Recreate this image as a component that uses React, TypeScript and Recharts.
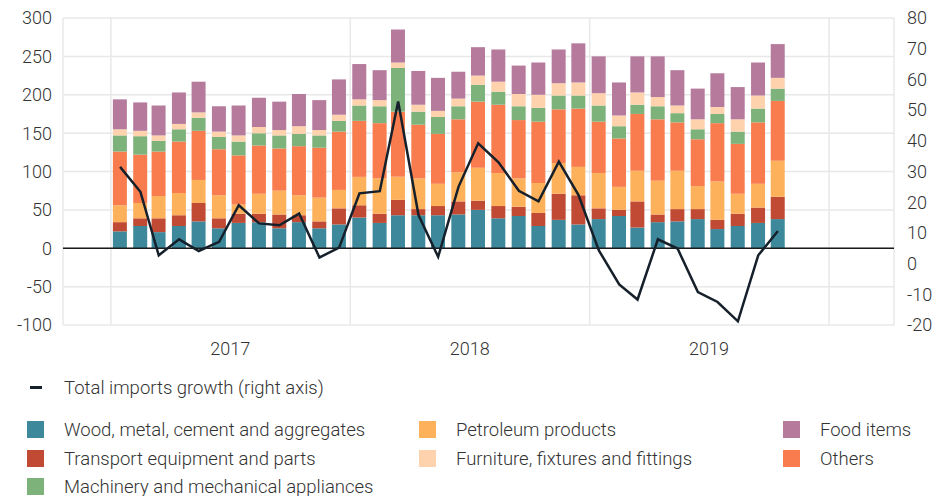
import React from 'react';
import { ComposedChart, Bar, Line, XAxis, YAxis, CartesianGrid, ReferenceLine } from 'recharts';

// months shown, one bar per month
const months = [
  '2017-01', '2017-02', '2017-03', '2017-04', '2017-05', '2017-06', '2017-07', '2017-08', '2017-09', '2017-10', '2017-11', '2017-12',
  '2018-01', '2018-02', '2018-03', '2018-04', '2018-05', '2018-06', '2018-07', '2018-08', '2018-09', '2018-10', '2018-11', '2018-12',
  '2019-01', '2019-02', '2019-03', '2019-04', '2019-05', '2019-06', '2019-07', '2019-08', '2019-09', '2019-10',
];

const wood = [22, 29, 21, 29, 35, 26, 33, 34, 26, 34, 26, 31, 40, 33, 43, 43, 43, 44, 50, 39, 42, 29, 37, 31, 38, 42, 27, 34, 35, 38, 25, 29, 33, 38];
const transport = [12, 10, 18, 14, 24, 13, 12, 11, 18, 9, 9, 21, 16, 12, 20, 8, 12, 17, 12, 16, 12, 17, 34, 38, 14, 8, 34, 10, 16, 13, 12, 16, 20, 29];
const petroleum = [22, 20, 29, 29, 30, 30, 12, 26, 31, 26, 31, 24, 37, 46, 30, 40, 29, 38, 43, 43, 37, 39, 40, 37, 46, 30, 40, 44, 50, 30, 50, 26, 31, 47];
const others = [70, 63, 58, 67, 64, 60, 64, 63, 55, 64, 65, 76, 73, 72, 85, 70, 65, 69, 86, 89, 76, 80, 70, 76, 67, 63, 74, 80, 63, 61, 76, 65, 80, 78];
const machinery = [21, 24, 14, 16, 17, 16, 18, 16, 17, 16, 16, 14, 20, 22, 57, 17, 22, 17, 22, 17, 18, 18, 18, 17, 21, 16, 12, 17, 12, 13, 12, 16, 18, 16];
const furniture = [8, 7, 7, 7, 7, 7, 8, 8, 7, 10, 7, 8, 8, 8, 7, 9, 8, 10, 12, 13, 16, 17, 16, 17, 16, 14, 16, 12, 10, 13, 9, 16, 17, 14];
const food = [39, 37, 39, 41, 40, 33, 39, 38, 37, 42, 39, 46, 46, 39, 43, 44, 43, 35, 37, 42, 37, 42, 44, 51, 48, 43, 47, 53, 46, 40, 44, 42, 43, 44];
const growth = [31.5, 23.4, 2.7, 7.9, 4.1, 7.1, 19, 13.1, 12.5, 16.3, 2, 5.2, 22.9, 23.6, 52.8, 15.8, 2.2, 25, 39.2, 33, 23.7, 20.3, 33.2, 22.3, 4.3, -6.8, -11.7, 7.9, 4.9, -9.3, -12.5, -18.8, 2.7, 10.6];

const years = [2017, 2018, 2019];
const gridYears = [2017, 2018, 2019, 2020];
const leftTicks = [-100, -50, 0, 50, 100, 150, 200, 250, 300];
const rightTicks = [-20, -10, 0, 10, 20, 30, 40, 50, 60, 70, 80];

const series = [
  { key: 'wood', name: 'Wood, metal, cement and aggregates', color: '#3d899b' },
  { key: 'transport', name: 'Transport equipment and parts', color: '#c04a33' },
  { key: 'petroleum', name: 'Petroleum products', color: '#fdb15b' },
  { key: 'others', name: 'Others', color: '#f97c4e' },
  { key: 'machinery', name: 'Machinery and mechanical appliances', color: '#7db27a' },
  { key: 'furniture', name: 'Furniture, fixtures and fittings', color: '#fed2ad' },
  { key: 'food', name: 'Food items', color: '#b57a9c' },
];

const legendCols = [
  ['wood', 'transport', 'machinery'],
  ['petroleum', 'furniture'],
  ['food', 'others'],
];

const toTime = (m: string) => {
  const [y, mo] = m.split('-').map(Number);
  return Date.UTC(y, mo - 1, 15);
};

const data = months.map((m, i) => ({
  t: toTime(m),
  wood: wood[i],
  transport: transport[i],
  petroleum: petroleum[i],
  others: others[i],
  machinery: machinery[i],
  furniture: furniture[i],
  food: food[i],
  growth: growth[i],
}));

const domain = [Date.UTC(2016, 9, 20), Date.UTC(2020, 3, 9)];
const yearTicks = years.map((y) => Date.UTC(y, 6, 2));
const boundaryTicks = gridYears.map((y) => Date.UTC(y, 0, 1));

const font = 'Roboto, "Noto Sans", sans-serif';
const tickStyle = { fontSize: 18, fill: '#333', fontFamily: font, fontWeight: 300 };

const legendX = [27, 419, 783];
const legendRowY = [421, 450, 478];

export default function App() {
  const byKey = Object.fromEntries(series.map((s) => [s.key, s]));
  return (
    <div style={{ position: 'relative', width: 933, height: 496, background: '#fff', fontFamily: font, fontWeight: 300, color: '#333' }}>
      <style>{'body{margin:0}'}</style>
      <ComposedChart width={933} height={365} data={data} margin={{ top: 18, right: 0, bottom: 0, left: 0 }}>
        <CartesianGrid xAxisId="g" yAxisId="left" stroke="#e8e8e8" strokeWidth={1.5} />
        <XAxis xAxisId="g" orientation="top" height={0} dataKey="t" type="number" domain={domain} ticks={boundaryTicks} hide />
        <XAxis
          xAxisId="x"
          dataKey="t"
          type="number"
          domain={domain}
          ticks={yearTicks}
          interval={0}
          tickFormatter={(v: number) => String(new Date(v).getUTCFullYear())}
          tickLine={false}
          axisLine={false}
          tickSize={0}
          tickMargin={17}
          height={40}
          tick={tickStyle}
        />
        <YAxis
          yAxisId="left"
          domain={[-100, 300]}
          ticks={leftTicks}
          interval={0}
          width={63}
          tickLine={false}
          axisLine={false}
          tickSize={0}
          tickMargin={11}
          tick={tickStyle}
        />
        <YAxis
          yAxisId="right"
          orientation="right"
          domain={[-20, 80]}
          ticks={rightTicks}
          interval={0}
          width={39}
          tickLine={false}
          axisLine={false}
          tickSize={0}
          tickMargin={13}
          tick={{ ...tickStyle, textAnchor: 'start' }}
        />
        {series.map((s) => (
          <Bar
            key={s.key}
            dataKey={s.key}
            name={s.name}
            stackId="a"
            xAxisId="x"
            yAxisId="left"
            fill={s.color}
            barSize={14}
            isAnimationActive={false}
          />
        ))}
        <ReferenceLine xAxisId="x" yAxisId="left" y={0} stroke="#1b1b1b" strokeWidth={1.5} />
        <Line
          dataKey="growth"
          xAxisId="x"
          yAxisId="right"
          stroke="#16202b"
          strokeWidth={2.5}
          dot={false}
          isAnimationActive={false}
        />
      </ComposedChart>

      <div style={{ position: 'absolute', left: 30, top: 386, width: 12, height: 3, background: '#16202b' }} />
      <div style={{ position: 'absolute', left: 64, top: 376, fontSize: 18.5, lineHeight: '24px' }}>Total imports growth (right axis)</div>

      {legendCols.map((col, ci) =>
        col.map((k, ri) => (
          <React.Fragment key={k}>
            <div
              style={{
                position: 'absolute',
                left: legendX[ci],
                top: legendRowY[ri],
                width: 17,
                height: 17,
                background: byKey[k].color,
              }}
            />
            <div style={{ position: 'absolute', left: legendX[ci] + 37, top: legendRowY[ri] - 3, fontSize: 18.5, lineHeight: '24px', whiteSpace: 'nowrap' }}>
              {byKey[k].name}
            </div>
          </React.Fragment>
        ))
      )}
    </div>
  );
}
